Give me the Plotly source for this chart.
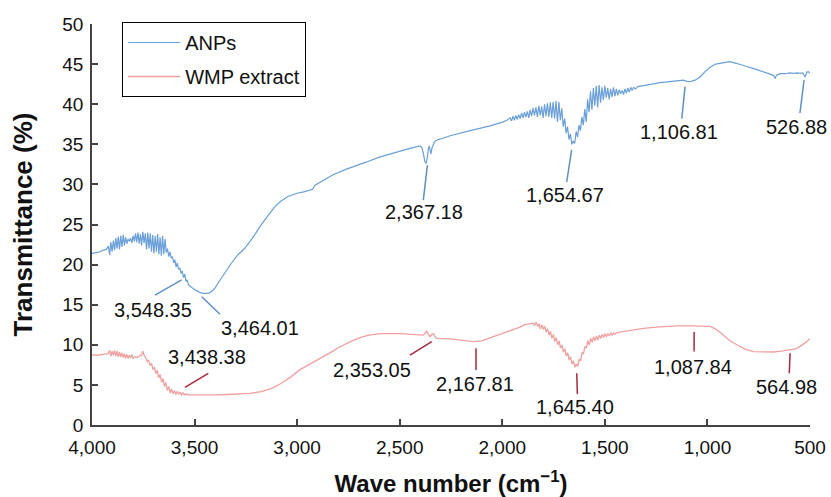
import plotly.graph_objects as go

# ---------------- data ----------------
anp_wn = [4000, 3980, 3960, 3945, 3930,
          3920, 3914, 3908, 3902, 3896, 3890, 3884, 3878, 3872, 3866, 3860, 3854, 3848, 3842,
          3836, 3830, 3824, 3818, 3812, 3806, 3800, 3794, 3788, 3782, 3776, 3770, 3764, 3758,
          3752, 3746, 3740, 3734, 3728, 3722, 3716, 3710, 3704, 3698, 3692, 3686, 3680, 3674,
          3668, 3662, 3656, 3650, 3644, 3638, 3632, 3626, 3620, 3614, 3608, 3602, 3596, 3590,
          3584, 3578, 3572, 3566, 3560, 3554, 3548, 3542, 3536, 3530, 3522, 3512, 3500, 3480,
          3460, 3440, 3425, 3410, 3400, 3385, 3370, 3345, 3320, 3290, 3256, 3230, 3207, 3180,
          3158, 3130, 3109, 3080, 3045, 3000, 2963, 2937, 2925, 2913, 2880, 2825, 2760, 2710,
          2661, 2600, 2547, 2499, 2450, 2401, 2392, 2384, 2378, 2372, 2366, 2360, 2356, 2352,
          2348, 2342, 2330, 2320, 2250, 2141, 2060, 1995, 1978,
          1962, 1955, 1948, 1941, 1934, 1927, 1920, 1913, 1906, 1899, 1892, 1885, 1878, 1871,
          1864, 1857, 1850, 1843, 1836, 1829, 1822, 1815, 1808, 1801, 1794, 1787, 1780, 1773,
          1766, 1759, 1752, 1745, 1738, 1731, 1724, 1717, 1710, 1703, 1696, 1689, 1682, 1675,
          1668, 1661, 1654, 1647, 1640, 1633, 1626, 1619, 1612, 1605, 1598, 1591, 1584, 1577,
          1570, 1563, 1556, 1549, 1542, 1535, 1528, 1521, 1514, 1507, 1500, 1493, 1486, 1479,
          1472, 1465, 1458, 1451, 1444, 1437, 1430, 1423, 1416, 1409, 1402, 1395, 1388, 1381,
          1374, 1367, 1360, 1350, 1340, 1312, 1270, 1230, 1198, 1160, 1117, 1100, 1085, 1060,
          1036, 1010, 987, 960, 939, 910, 890, 860, 830, 808, 770, 727, 690, 678, 670, 664,
          646, 620, 600, 580, 560, 549, 535, 524, 515, 508, 500]
anp_t = [21.4, 21.5, 21.6, 21.8, 21.9,
         22.3, 21.2, 22.8, 21.6, 23.0, 21.8, 23.3, 22.0, 23.5, 21.9, 23.6, 22.2, 23.7, 22.4,
         23.4, 22.6, 23.2, 22.9, 23.3, 22.7, 23.6, 22.9, 23.9, 22.8, 24.0, 22.6, 23.8, 22.4,
         24.1, 22.7, 23.9, 21.9, 24.0, 22.0, 23.9, 21.6, 23.7, 21.4, 23.6, 21.6, 23.8, 21.3,
         23.4, 21.1, 23.6, 21.3, 23.2, 21.5, 22.0, 21.0, 21.6, 20.8, 21.0, 20.2, 20.6, 19.7,
         20.2, 19.4, 19.6, 18.9, 19.2, 18.4, 18.8, 17.9, 18.1, 17.5, 17.3, 17.1, 16.9, 16.6,
         16.4, 16.4, 16.5, 16.8, 17.1, 17.7, 18.3, 19.3, 20.2, 21.2, 22.0, 22.9, 23.7, 24.8,
         25.6, 26.5, 27.2, 27.9, 28.5, 28.9, 29.1, 29.3, 29.4, 29.9, 30.4, 31.2, 31.9, 32.4,
         32.8, 33.4, 33.8, 34.2, 34.5, 34.8, 34.6, 33.8, 32.9, 32.6, 33.2, 34.5, 34.8, 34.3,
         33.8, 34.6, 35.3, 35.5, 36.1, 36.8, 37.3, 37.8, 38.0,
         38.3, 37.9, 38.5, 38.0, 38.6, 38.1, 38.7, 38.2, 38.9, 38.3, 39.0, 38.4, 39.1, 38.3,
         39.3, 38.5, 39.5, 38.6, 39.6, 38.4, 39.8, 38.6, 39.7, 38.3, 40.0, 38.5, 40.1, 38.4,
         40.2, 38.3, 40.3, 38.2, 40.4, 37.8, 40.3, 38.0, 39.5, 37.2, 38.2, 36.4, 37.2, 35.6,
         36.3, 35.0, 35.4, 35.1, 36.6, 35.9, 37.4, 36.7, 38.4, 37.4, 39.4, 37.8, 40.6, 39.0,
         41.6, 39.3, 42.0, 39.8, 42.3, 39.6, 42.4, 40.2, 42.1, 40.5, 42.3, 40.8, 42.0, 40.6,
         41.9, 40.9, 42.1, 41.0, 41.9, 41.1, 41.8, 41.3, 41.7, 41.2, 41.9, 41.4, 42.0, 41.5,
         42.1, 41.7, 42.1, 41.9, 42.2, 42.3, 42.5, 42.7, 42.8, 42.95, 43.0, 42.85, 42.8, 43.0,
         43.4, 44.1, 44.6, 45.0, 45.1, 45.2, 45.3, 45.1, 44.9, 44.7, 44.4, 44.05, 43.7, 43.6, 43.2, 43.6,
         43.8, 43.8, 43.9, 43.85, 43.9, 43.85, 43.9, 43.4, 44.0, 44.05, 43.9]

wmp_wn = [4000, 3970, 3950, 3930, 3922,
          3914, 3908, 3902, 3896, 3890, 3884, 3878, 3872, 3866, 3860, 3854, 3848, 3842, 3836,
          3830, 3824, 3818, 3812, 3806, 3800, 3790, 3780, 3770, 3760, 3752, 3745, 3738, 3731,
          3724, 3717, 3710, 3703, 3696, 3689, 3682, 3675, 3668, 3661, 3654, 3647, 3640, 3633,
          3626, 3619, 3612, 3605, 3598, 3591, 3584, 3577, 3570, 3563, 3556, 3549, 3542, 3532,
          3500, 3450, 3400, 3340, 3288, 3230, 3175, 3120, 3077, 3030, 2986, 2940, 2888, 2840,
          2791, 2740, 2694, 2650, 2596, 2499, 2430, 2385, 2375, 2369, 2362, 2352, 2344, 2336,
          2328, 2320, 2255, 2190, 2141, 2100, 2076, 2030, 1978, 1913, 1897, 1870, 1849,
          1842, 1835, 1828, 1821, 1814, 1807, 1800, 1793, 1786, 1779, 1772, 1765, 1758, 1751,
          1744, 1737, 1730, 1723, 1716, 1709, 1702, 1695, 1688, 1681, 1674, 1667, 1660, 1653,
          1646, 1639, 1632, 1625, 1618, 1611, 1604, 1597, 1590, 1583, 1576, 1569, 1562, 1555,
          1548, 1541, 1534, 1527, 1520, 1513, 1506, 1499, 1492, 1485, 1478, 1471, 1464, 1457,
          1450, 1442, 1420, 1380, 1340, 1312, 1250, 1150, 1069, 1030, 987, 955, 922, 890,
          857, 820, 776, 730, 678, 640, 597, 570, 549, 520, 500]
wmp_t = [8.75, 8.7, 8.8, 8.85, 8.9,
         9.3, 8.6, 9.2, 8.7, 9.3, 8.6, 9.2, 8.5, 9.1, 8.5, 9.0, 8.4, 8.9, 8.3,
         8.8, 8.3, 8.7, 8.4, 8.8, 8.3, 8.5, 8.4, 8.6, 8.7, 9.2, 8.6, 8.4, 7.9,
         8.1, 7.4, 7.7, 6.9, 7.2, 6.4, 6.8, 5.9, 6.3, 5.3, 5.8, 4.8, 5.3, 4.3,
         4.8, 4.0, 4.5, 3.9, 4.3, 3.8, 4.2, 3.8, 4.1, 3.75, 4.0, 3.75, 3.9, 3.75,
         3.75, 3.73, 3.75, 3.8, 3.87, 3.95, 4.16, 4.6, 5.2, 6.0, 6.9, 7.6, 8.3, 9.0,
         9.76, 10.4, 10.9, 11.2, 11.4, 11.4, 11.3, 11.2, 11.5, 11.7, 11.4, 11.0, 11.3, 11.4,
         11.0, 10.8, 10.75, 10.5, 10.4, 10.5, 10.7, 11.1, 11.6, 12.2, 12.45, 12.6, 12.7,
         12.4, 12.8, 12.3, 12.6, 12.0, 12.5, 11.9, 12.3, 11.6, 12.0, 11.2, 11.7, 10.8, 11.3,
         10.4, 10.9, 10.0, 10.5, 9.6, 10.0, 9.1, 9.5, 8.6, 9.0, 8.1, 8.5, 7.6, 8.0,
         7.2, 7.6, 7.3, 8.2, 8.0, 9.0, 8.9, 9.8, 9.6, 10.5, 10.0, 10.8, 10.3, 11.0,
         10.5, 11.1, 10.6, 11.2, 10.8, 11.3, 10.9, 11.4, 11.0, 11.4, 11.1, 11.5, 11.2, 11.5,
         11.3, 11.5, 11.6, 11.8, 11.95, 12.05, 12.2, 12.35, 12.35, 12.35, 12.3, 11.9, 11.2, 10.5,
         10.0, 9.5, 9.15, 9.1, 9.1, 9.2, 9.35, 9.5, 9.8, 10.3, 10.8]

x_ticks = [4000, 3500, 3000, 2500, 2000, 1500, 1000, 500]
x_tick_labels = ["4,000", "3,500", "3,000", "2,500", "2,000", "1,500", "1,000", "500"]

anp_labels = ["3,548.35", "3,464.01", "2,367.18", "1,654.67", "1,106.81", "526.88"]
wmp_labels = ["3,438.38", "2,353.05", "2,167.81", "1,645.40", "1,087.84", "564.98"]

# label placement (text x, text y, leader x0, y0, x1, y1) in data units
anp_place = [(3703, 14.3, 3693, 16.2, 3563, 18.1),
             (3181, 12.05, 3465, 16.0, 3376, 13.8),
             (2381, 26.6, 2365, 32.4, 2385, 28.05),
             (1694, 28.7, 1662, 34.3, 1686, 30.3),
             (1137, 36.5, 1109, 42.2, 1125, 38.2),
             (565, 37.2, 529, 43.0, 549, 38.9)]
wmp_place = [(3441, 8.5, 3547, 4.7, 3433, 6.45),
             (2637, 6.86, 2450, 8.7, 2344, 10.4),
             (2133, 5.1, 2128, 9.56, 2128, 6.86),
             (1645, 2.2, 1637, 6.45, 1634, 3.87),
             (1072, 7.27, 1065, 11.6, 1065, 9.15),
             (614, 4.7, 597, 8.94, 601, 6.45)]

ANP_COLOR = "#6a9fd8"
WMP_COLOR = "#f0a0a0"
ANP_LEADER = "#5f8fc4"
WMP_LEADER = "#a8283c"
FONT = "Liberation Sans, Arial, sans-serif"

fig = go.Figure()
fig.add_trace(go.Scatter(x=anp_wn, y=anp_t, mode="lines", name="ANPs", legendgroup="a",
                         line=dict(color=ANP_COLOR, width=1.2)))
fig.add_trace(go.Scatter(x=wmp_wn, y=wmp_t, mode="lines", name="WMP extract", legendgroup="b",
                         line=dict(color=WMP_COLOR, width=1.3)))

shapes = []
annotations = []
for labels, places, col in ((anp_labels, anp_place, ANP_LEADER), (wmp_labels, wmp_place, WMP_LEADER)):
    for lab, (tx, ty, x0, y0, x1, y1) in zip(labels, places):
        shapes.append(dict(type="line", xref="x", yref="y", x0=x0, y0=y0, x1=x1, y1=y1,
                           line=dict(color=col, width=1.5)))
        annotations.append(dict(x=tx, y=ty, xref="x", yref="y", text=lab, showarrow=False,
                                font=dict(size=20, color="#111111", family=FONT),
                                xanchor="center", yanchor="middle"))

fig.update_layout(
    width=831, height=497,
    margin=dict(l=92, r=21, t=24, b=72),
    paper_bgcolor="white", plot_bgcolor="white",
    font=dict(family=FONT, size=19, color="#111111"),
    shapes=shapes, annotations=annotations,
    showlegend=True,
    legend=dict(x=0.042, y=1.005, xanchor="left", yanchor="top",
                bordercolor="#000000", borderwidth=1, bgcolor="white",
                font=dict(size=20, family=FONT), itemwidth=52, tracegroupgap=5),
    xaxis=dict(range=[4000, 500], tickvals=x_ticks, ticktext=x_tick_labels,
               automargin=False,
               showline=True, linecolor="#444444", linewidth=1.5,
               ticks="inside", ticklen=6, tickcolor="#444444", tickwidth=1.5,
               ticklabelstandoff=4,
               showgrid=False, zeroline=False,
               tickfont=dict(size=19, family=FONT),
               title=dict(text="<b>Wave number (cm<sup>−1</sup>)</b>", standoff=19,
                          font=dict(size=24, family=FONT))),
    yaxis=dict(range=[0, 50], dtick=5, tick0=0,
               automargin=False,
               showline=True, linecolor="#444444", linewidth=1.5,
               ticks="inside", ticklen=6, tickcolor="#444444", tickwidth=1.5,
               ticklabelstandoff=3,
               showgrid=False, zeroline=False,
               tickfont=dict(size=19, family=FONT),
               title=dict(text="<b>Transmittance (%)</b>", standoff=22,
                          font=dict(size=26, family=FONT))),
)

fig.write_html("out.html", config={"displayModeBar": False},
               post_script="document.body.style.margin='0';document.body.style.padding='0';")
